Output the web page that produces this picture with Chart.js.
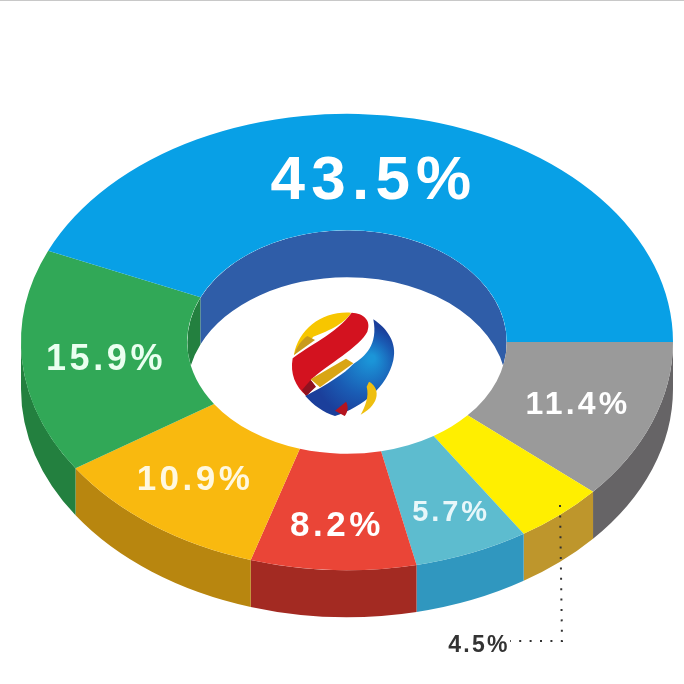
<!DOCTYPE html>
<html>
<head>
<meta charset="utf-8">
<title>Share chart</title>
<style>
  html, body { margin: 0; padding: 0; background: #fff; }
  canvas { display: block; }
</style>
<script src="https://cdn.jsdelivr.net/npm/chart.js@4/dist/chart.umd.min.js"></script>
</head>
<body>
<canvas id="myChart" width="684" height="684"></canvas>
<script>
'use strict'

// clockwise from 3 o'clock
let categories = ['11.4%', '4.5%', '5.7%', '8.2%', '10.9%', '15.9%', '43.5%'];
let shares = [11.4, 4.5, 5.7, 8.2, 10.9, 15.9, 43.5];

let topColors = ['#9a9a9a', '#ffef00', '#5dbccf', '#ea4537', '#f9b90f', '#31a857', '#08a0e6'];
let outerWallColors = ['#666466', '#be962c', '#3097bf', '#a32a22', '#b8860f', '#23803f', '#08a0e6'];
let innerWallColors = ['#666466', '#be962c', '#3097bf', '#a32a22', '#b8860f', '#23803f', '#2f5da8'];

// label centre x, y, font size, colour
let labelSpots = [
    [578, 405, 32, '#fff'],
    [479, 646, 23, '#333'],
    [451, 513, 29, '#e8f7fa'],
    [337, 526, 35, '#fff'],
    [195, 480, 35, '#fff8e0'],
    [106, 360, 36, '#eafff0'],
    [374, 182, 62, '#fff']
];

let squash = 0.7;
let depth = 47;

function drawWalls(ctx, arcs) {
    let d = depth / squash;
    for (let i = 0; i < arcs.length; i++) {
        let a = arcs[i];
        // outer wall, front half only
        let from = Math.max(a.startAngle, 0);
        let to = Math.min(a.endAngle, Math.PI);
        if (to > from) {
            ctx.beginPath();
            ctx.arc(a.x, a.y, a.outerRadius, from, to);
            ctx.arc(a.x, a.y + d, a.outerRadius, to, from, true);
            ctx.closePath();
            ctx.fillStyle = outerWallColors[i];
            ctx.fill();
        }
        // inner wall, seen through the hole on the back half
        from = Math.max(a.startAngle, Math.PI);
        to = Math.min(a.endAngle, Math.PI * 2);
        if (to > from) {
            ctx.save();
            ctx.beginPath();
            ctx.arc(a.x, a.y, a.innerRadius, 0, Math.PI * 2);
            ctx.clip();
            ctx.beginPath();
            ctx.arc(a.x, a.y, a.innerRadius, from, to);
            ctx.arc(a.x, a.y + d, a.innerRadius, to, from, true);
            ctx.closePath();
            ctx.fillStyle = innerWallColors[i];
            ctx.fill();
            ctx.restore();
        }
    }
}

function shape(ctx, color, path) {
    ctx.fillStyle = color;
    ctx.fill(new Path2D(path));
}

function drawLogo(ctx) {
    ctx.save();
    ctx.translate(270, 290);
    ctx.scale(1 / 3, 1 / 3);
    shape(ctx, '#f7c600', 'M72 195C85 115 160 62 243 68C230 95 180 122 130 140L120 152Z');
    shape(ctx, '#c99a1c', 'M72 195C80 170 95 150 112 138L135 150Z');
    shape(ctx, '#d3121f', 'M68 205C110 170 200 130 245 68C280 70 305 90 292 125C270 170 170 225 122 270L135 288L110 318C75 290 60 250 68 205Z');
    shape(ctx, '#8f1220', 'M122 270L138 290L108 318L96 300Z');
    shape(ctx, '#d9a514', 'M122 268L228 206L250 220L150 292Z');
    let g = ctx.createRadialGradient(305, 205, 10, 270, 240, 140);
    g.addColorStop(0, '#1b95d8');
    g.addColorStop(0.6, '#1a5cb4');
    g.addColorStop(1, '#1b3f9b');
    shape(ctx, g, 'M310 88C352 115 382 160 370 210C352 290 280 350 195 378C160 368 130 345 106 318C170 285 225 250 250 222C285 200 325 165 310 88Z');
    shape(ctx, '#eebf10', 'M297 275C328 290 335 340 272 374C285 350 298 320 290 290Z');
    shape(ctx, '#b5141f', 'M195 362L228 335C236 350 234 365 224 378Z');
    ctx.restore();
}

function drawLeader(ctx) {
    ctx.save();
    ctx.strokeStyle = '#333';
    ctx.lineWidth = 2;
    ctx.setLineDash([2, 8.4]);
    ctx.beginPath();
    ctx.moveTo(560, 505);
    ctx.lineTo(562, 641);
    ctx.lineTo(510, 641);
    ctx.stroke();
    ctx.restore();
}

function drawLabels(ctx) {
    ctx.save();
    ctx.textAlign = 'center';
    ctx.textBaseline = 'middle';
    for (let i = 0; i < categories.length; i++) {
        let spot = labelSpots[i];
        ctx.font = `bold ${spot[2]}px "Liberation Sans", Arial, sans-serif`;
        ctx.letterSpacing = (spot[2] * 0.1) + 'px';
        ctx.fillStyle = spot[3];
        ctx.fillText(categories[i], spot[0], spot[1]);
    }
    ctx.restore();
}

let tiltPlugin = {
    id: 'tilt',
    beforeDraw(chart) {
        let ctx = chart.ctx;
        ctx.fillStyle = '#fff';
        ctx.fillRect(0, 0, chart.width, chart.height);
        ctx.fillStyle = '#c8c8c8';
        ctx.fillRect(0, 0, chart.width, 1);
    },
    beforeDatasetsDraw(chart) {
        let ctx = chart.ctx;
        let arcs = chart.getDatasetMeta(0).data;
        ctx.save();
        ctx.translate(0, arcs[0].y);
        ctx.scale(1, squash);
        ctx.translate(0, -arcs[0].y);
        drawWalls(ctx, arcs);
    },
    afterDatasetsDraw(chart) {
        let ctx = chart.ctx;
        ctx.restore();
        drawLogo(ctx);
        drawLeader(ctx);
        drawLabels(ctx);
    }
};

new Chart(document.getElementById('myChart').getContext('2d'), {
    type: 'doughnut',
    data: {
        labels: categories,
        datasets: [{
            data: shares,
            backgroundColor: topColors,
            borderWidth: 0
        }]
    },
    options: {
        responsive: false,
        animation: false,
        rotation: 90,
        cutout: '49%',
        layout: { padding: { left: 21, right: 11, top: 16, bottom: 16 } },
        plugins: {
            legend: { display: false },
            tooltip: { enabled: false }
        }
    },
    plugins: [tiltPlugin]
});
</script>
</body>
</html>
